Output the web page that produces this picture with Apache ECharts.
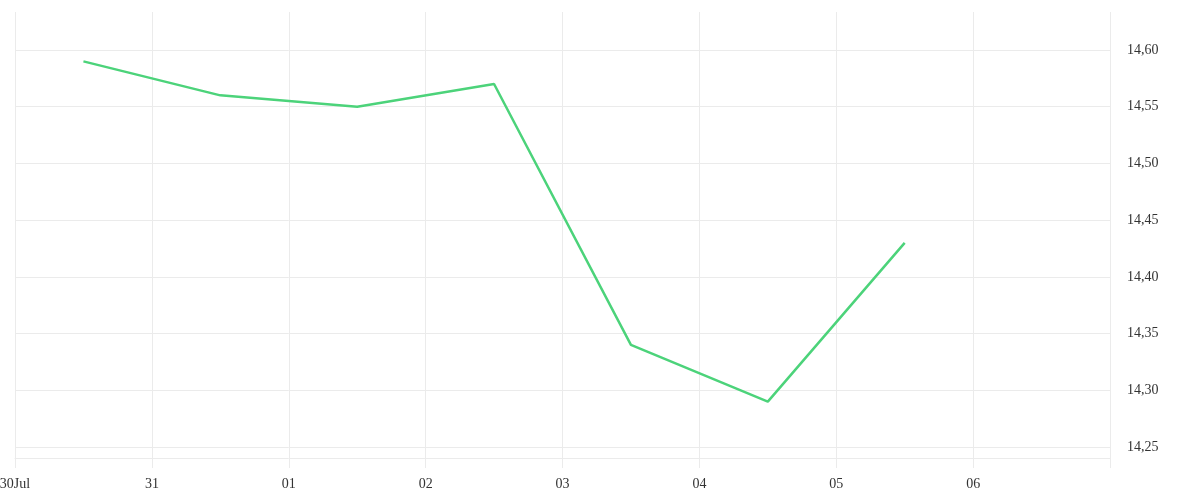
<!DOCTYPE html>
<html>
<head>
<meta charset="utf-8">
<script src="https://cdn.jsdelivr.net/npm/echarts@6/dist/echarts.min.js"></script>
<style>html,body{margin:0;padding:0;background:#fff;}#c{width:1200px;height:500px;}</style>
</head>
<body>
<div id="c"></div>
<script>
// Data (local-time dates, points at noon)
const pointDates = [
  [2024, 6, 30], [2024, 6, 31], [2024, 7, 1], [2024, 7, 2],
  [2024, 7, 3], [2024, 7, 4], [2024, 7, 5]
];
const values = [14.59, 14.56, 14.55, 14.57, 14.34, 14.29, 14.43];
const xTickLabels = ['30Jul', '31', '01', '02', '03', '04', '05', '06', ''];
const yMin = 14.2403, yMax = 14.6335;

const DAY = 86400000;
const axisStart = new Date(2024, 6, 30, 0, 0, 0).getTime();
const axisEnd = new Date(2024, 7, 7, 0, 0, 0).getTime();
const seriesData = pointDates.map((d, i) => [new Date(d[0], d[1], d[2], 12, 0, 0).getTime(), values[i]]);

const font = 'Liberation Serif';
const chart = echarts.init(document.getElementById('c'));
chart.setOption({
  animation: false,
  grid: { left: 15, right: 90, top: 12, bottom: 42, containLabel: false, outerBoundsMode: 'none' },
  xAxis: {
    type: 'time',
    min: axisStart,
    max: axisEnd,
    minInterval: DAY,
    maxInterval: DAY,
    axisLine: { show: true, lineStyle: { color: '#ebebeb', width: 1 } },
    axisTick: { show: true, length: 10, lineStyle: { color: '#ebebeb' } },
    splitLine: { show: true, lineStyle: { color: '#ebebeb', width: 1 } },
    axisLabel: {
      color: '#333', fontFamily: font, fontSize: 14, margin: 19,
      showMaxLabel: false,
      hideOverlap: false,
      formatter: function (v) {
        const idx = Math.round((v - axisStart) / DAY);
        return xTickLabels[idx] !== undefined ? xTickLabels[idx] : '';
      }
    }
  },
  yAxis: {
    type: 'value',
    position: 'right',
    min: yMin,
    max: yMax,
    splitNumber: 8,
    axisLine: { show: false },
    axisTick: { show: false },
    splitLine: { show: true, showMinLine: false, showMaxLine: false, lineStyle: { color: '#ebebeb', width: 1 } },
    axisLabel: {
      color: '#333', fontFamily: font, fontSize: 14, margin: 17,
      padding: [6, 0, 0, 0],
      showMinLabel: false, showMaxLabel: false,
      formatter: function (v) { return v.toFixed(2).replace('.', ','); }
    }
  },
  series: [{
    type: 'line',
    data: seriesData,
    showSymbol: false,
    symbol: 'none',
    lineStyle: { color: '#4cd37a', width: 2.5 },
    itemStyle: { color: '#4cd37a' }
  }]
});
</script>
</body>
</html>
